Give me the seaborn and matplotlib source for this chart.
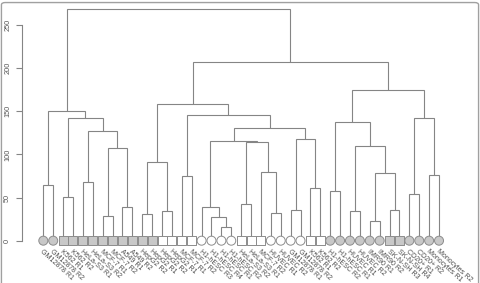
import numpy as np
import pandas as pd
import seaborn as sns
import matplotlib
matplotlib.use("Agg")
import matplotlib.pyplot as plt
from matplotlib.patches import FancyBboxPatch

# leaves, left to right
leaf_labels = [
    "GM12878 R1", "GM12878 R2", "K562 R1", "K562 R2", "HeLa-S3 R1", "HeLa-S3 R2",
    "MCF-7 R1", "MCF-7 R2", "A549 R1", "A549 R2", "HepG2 R2", "HepG2 R1",
    "HepG2 R2", "HepG2 R1", "MCF-7 R1", "MCF-7 R2", "H1-hESC R3", "H1-hESC R4",
    "H1-hESC R1", "H1-hESC R2", "HeLa-S3 R2", "HeLa-S3 R1", "MCF-7 R2",
    "HUVEC R1", "HUVEC R2", "GM12878 R1", "GM12878 R2", "K562 R1", "K562 R2",
    "H1-hESC R2", "H1-hESC R1", "HUVEC R1", "HUVEC R2", "IMR90 R1", "IMR90 R2",
    "SK-N-SH R3", "SK-N-SH R4", "CD20+ R1", "CD20+ R2", "Monocytes R1", "Monocytes R2",
]
leaf_shape = (["circle"] * 2 + ["square"] * 10 + ["square"] * 4 + ["circle"] * 4
              + ["square"] * 3 + ["circle"] * 4 + ["square"] * 2 + ["circle"] * 6
              + ["square"] * 2 + ["circle"] * 4)
leaf_fill = (["grey"] * 12 + ["white"] * 17 + ["grey"] * 12)

# merges: (child a, child b, height); leaves are 0..40, new nodes get 41, 42, ...
merge_a = [0, 2, 4, 6, 8, 44, 43, 42, 41,
           10, 12, 50, 14, 18, 17, 16, 20, 23, 22, 57, 56, 25, 27, 62, 61, 53, 52,
           29, 31, 33, 35, 70, 69, 68, 37, 39, 75, 74, 67, 49]
merge_b = [1, 3, 5, 7, 9, 45, 46, 47, 48,
           11, 13, 51, 15, 19, 54, 55, 21, 24, 58, 59, 60, 26, 28, 63, 64, 65, 66,
           30, 32, 34, 36, 71, 72, 73, 38, 40, 76, 77, 78, 79]
merge_h = [64, 51, 68, 29, 39, 107, 127, 142, 150,
           31, 34, 91, 75, 16, 27, 39, 42, 32, 80, 114, 116, 36, 61, 117.5, 130, 146, 158,
           57, 34, 23, 36, 78, 110, 138, 54.5, 76.5, 142, 175, 207, 268]

n = len(leaf_labels)
line_col = "#858585"

sns.set_style("white")
plt.rcParams["font.family"] = ["Liberation Sans", "DejaVu Sans"]

fig = plt.figure(figsize=(4.8, 2.83), dpi=100)
ax = fig.add_axes([22.3 / 480, 33 / 283, 437.7 / 480, 245 / 283])

# node positions
pos_x = {i: float(i) for i in range(n)}
pos_h = {i: 0.0 for i in range(n)}
for k, (a, b, h) in enumerate(zip(merge_a, merge_b, merge_h)):
    node = n + k
    ax.plot([pos_x[a], pos_x[a], pos_x[b], pos_x[b]], [pos_h[a], h, h, pos_h[b]],
            color=line_col, lw=0.8, solid_joinstyle="miter", zorder=1)
    pos_x[node] = (pos_x[a] + pos_x[b]) / 2
    pos_h[node] = h

leaves = pd.DataFrame({"x": np.arange(n), "y": 0.0, "shape": leaf_shape, "fill": leaf_fill})
sns.scatterplot(data=leaves, x="x", y="y", hue="fill", style="shape",
                markers={"circle": "o", "square": "s"},
                palette={"grey": "#c8c8c8", "white": "white"},
                edgecolor="#8c8c8c", linewidth=0.7, s=42, legend=False,
                zorder=3, clip_on=False, ax=ax)

for i, lab in enumerate(leaf_labels):
    ax.text(i + 0.05, -8.5, lab, rotation=-42, rotation_mode="anchor",
            ha="left", va="top", fontsize=5, color="#4d4d4d")

xmin = -(43.3 - 22.3) / 9.893
ax.set_xlim(xmin, xmin + 437.7 / 9.893)
ax.set_ylim(-10.8, 273.1)
ax.set_xticks([])
ax.set_yticks([0, 50, 100, 150, 200, 250])
ax.set_xlabel("")
ax.set_ylabel("")
for side in ["top", "right", "bottom"]:
    ax.spines[side].set_visible(False)
ax.spines["left"].set_bounds(0, 250)
ax.spines["left"].set_color(line_col)
ax.spines["left"].set_linewidth(0.8)
ax.tick_params(axis="y", left=True, length=4, width=0.8, color=line_col,
               labelsize=5.3, labelcolor="#555555", pad=4, labelrotation=90)
for t in ax.get_yticklabels():
    t.set_va("center")

fig.add_artist(FancyBboxPatch((0.003, -0.05), 0.994, 1.041,
                              boxstyle="round,pad=0,rounding_size=0.008",
                              transform=fig.transFigure, fill=False,
                              edgecolor="#a0a0a0", lw=1.0))

fig.savefig("out.png", dpi=100)
